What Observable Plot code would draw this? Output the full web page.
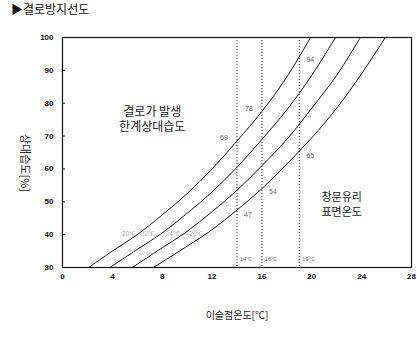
<!DOCTYPE html>
<html>
<head>
<meta charset="utf-8">
<script src="https://cdn.jsdelivr.net/npm/d3@7"></script>
<script src="https://cdn.jsdelivr.net/npm/@observablehq/plot@0.6"></script>
<style>
  body { margin: 0; background: #fff; width: 417px; height: 340px; overflow: hidden; }
  #title { height: 26px; line-height: 26px; padding-left: 11px; font: 12px "Noto Sans CJK KR", sans-serif; color: #111; }
  #chart svg { display: block; }
</style>
</head>
<body>
<div id="title">▶결로방지선도</div>
<div id="chart"></div>
<script>
// ---- data ----
const seriesNames = ["20℃", "22℃", "24℃", "26℃"];
const dew20 = [2.1, 4, 6, 8, 10, 12, 14, 16, 18, 19.9];
const rh20  = [30, 35, 40, 46, 52.5, 60, 68.5, 77.5, 88, 100];
const dew22 = [3.8, 6, 8, 10, 12, 14, 16, 18, 20, 21.9];
const rh22  = [30, 35.5, 40.5, 46.5, 53, 60.5, 69, 78, 88.5, 100];
const dew24 = [5.6, 8, 10, 12, 14, 16, 18, 20, 22, 23.9];
const rh24  = [30, 36, 41, 47, 53.5, 61, 69, 78.5, 88.5, 100];
const dew26 = [7.3, 10, 12, 14, 16, 18, 20, 22, 24, 25.9];
const rh26  = [30, 36.5, 41.5, 47.5, 54, 61.5, 69.5, 78.5, 89, 100];

const xTicks = [0, 4, 8, 12, 16, 20, 24, 28];
const yTicks = [30, 40, 50, 60, 70, 80, 90, 100];

const guideDew = [14, 16, 19];           // dotted vertical lines
const guideText = ["14℃", "16℃", "19℃"];

const ptLeftDew = [14, 16], ptLeftRH = [68.5, 77.5];          // values on 20℃ curve
const ptRightDew = [19, 14, 16, 19], ptRightRH = [94, 47, 54, 65];

const curveLabelDew = [5.3, 6.8, 8.8, 10.7];
const curveLabelRH = [40.3, 40.3, 40.3, 40.3];

const noteLeftLines = ["결로가 발생", "한계상대습도"], noteLeftDew = [7.2, 7.2], noteLeftRH = [77.3, 72.6];
const noteRightLines = ["창문유리", "표면온도"], noteRightDew = [22.4, 22.4], noteRightRH = [51.3, 46.8];

const xTitle = "이슬점온도[℃]";
const yTitle = "상대습도[%]";

// ---- build tables ----
const curves = [[dew20, rh20], [dew22, rh22], [dew24, rh24], [dew26, rh26]]
  .flatMap(([xs, ys], i) => xs.map((x, j) => ({series: seriesNames[i], dew: x, rh: ys[j]})));
const guides = guideDew.map((d, i) => ({dew: d, label: guideText[i]}));
const leftPts = ptLeftDew.map((d, i) => ({dew: d, rh: ptLeftRH[i]}));
const rightPts = ptRightDew.map((d, i) => ({dew: d, rh: ptRightRH[i]}));
const curveLabels = seriesNames.map((s, i) => ({s, dew: curveLabelDew[i], rh: curveLabelRH[i]}));
const notesLeft = noteLeftLines.map((t, i) => ({t, dew: noteLeftDew[i], rh: noteLeftRH[i]}));
const notesRight = noteRightLines.map((t, i) => ({t, dew: noteRightDew[i], rh: noteRightRH[i]}));

const kr = "'Noto Sans CJK KR', sans-serif";

const chart = Plot.plot({
  width: 417,
  height: 314,
  marginTop: 11,
  marginBottom: 73,
  marginLeft: 62,
  marginRight: 6,
  style: {fontFamily: "'Liberation Sans', sans-serif", background: "#fff", color: "#111"},
  x: {domain: [0, 28]},
  y: {domain: [30, 100]},
  marks: [
    Plot.ruleX(guides, {x: "dew", stroke: "#222", strokeWidth: 1, strokeDasharray: "1,2"}),
    Plot.ruleY(yTicks, {y: d => d, x1: 0, x2: 0.24, stroke: "#111"}),
    Plot.line(curves, {x: "dew", y: "rh", z: "series", stroke: "#111", strokeWidth: 1, curve: "catmull-rom"}),
    Plot.frame({stroke: "#111", strokeWidth: 1.2}),
    Plot.axisX({ticks: xTicks, tickSize: 0, tickPadding: 6, fontSize: 8, fontWeight: "bold", label: null}),
    Plot.axisY({ticks: yTicks, tickSize: 0, tickPadding: 9, fontSize: 8, fontWeight: "bold", label: null}),
    Plot.text(guides, {x: "dew", y: 32.7, text: "label", dx: 9, fontSize: 6, fill: "black", fillOpacity: 0.6}),
    Plot.text(leftPts, {x: "dew", y: "rh", text: d => String(Math.round(d.rh)), dx: -13, dy: -3, fontSize: 7, fill: "black", fillOpacity: 0.7}),
    Plot.text(rightPts, {x: "dew", y: "rh", text: d => String(Math.round(d.rh)), dx: 11, dy: 3, fontSize: 7, fill: "black", fillOpacity: 0.7}),
    Plot.text(curveLabels, {x: "dew", y: "rh", text: "s", fontSize: 6.5, fill: "black", fillOpacity: 0.4}),
    Plot.text(notesLeft, {x: "dew", y: "rh", text: "t", fontSize: 12, fontFamily: kr, fill: "#222"}),
    Plot.text(notesRight, {x: "dew", y: "rh", text: "t", fontSize: 11, fontFamily: kr, fill: "#222"}),
    Plot.text([xTitle], {frameAnchor: "bottom", dy: 51, text: d => d, fontSize: 10, fontFamily: kr, fill: "#222"})
  ]
});
document.getElementById("chart").appendChild(chart);

// y-axis title, reading top to bottom
d3.select(chart).append("text")
  .attr("transform", "translate(25,137) rotate(90)")
  .attr("text-anchor", "middle")
  .attr("dy", "0.35em")
  .style("font-family", kr)
  .style("font-size", "11px")
  .attr("fill", "#222")
  .text(yTitle);
</script>
</body>
</html>
